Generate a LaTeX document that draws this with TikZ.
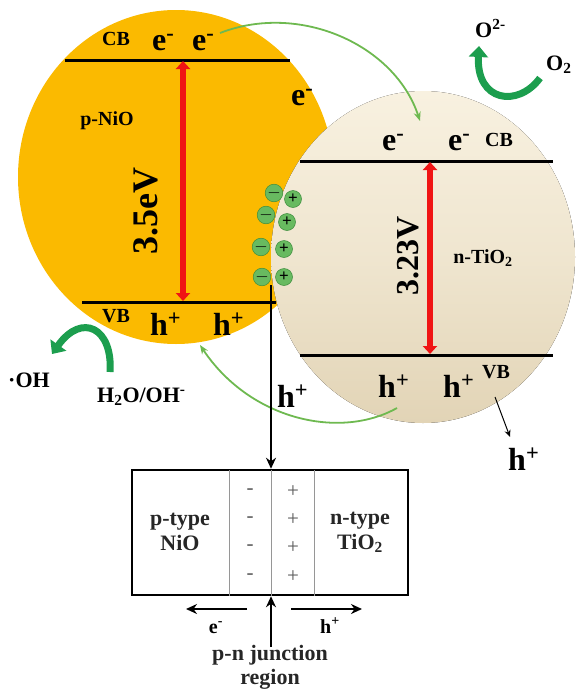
\documentclass[tikz,border=0pt]{standalone}
\usepackage{fontspec}
\setmainfont{Liberation Serif}
\usetikzlibrary{arrows.meta}
\definecolor{orng}{RGB}{251,186,0}
\definecolor{beigeT}{RGB}{248,241,224}
\definecolor{beigeB}{RGB}{226,212,182}
\definecolor{redA}{RGB}{240,20,20}
\definecolor{chg}{RGB}{104,186,96}
\definecolor{chgD}{RGB}{60,140,60}
\definecolor{thinG}{RGB}{110,185,80}
\definecolor{thickG}{RGB}{28,158,78}
\definecolor{boxgray}{RGB}{150,150,150}
\tikzset{
  bigt/.style={font=\fontsize{32}{34}\selectfont\bfseries, inner sep=0pt},
  labt/.style={font=\fontsize{20}{22}\selectfont\bfseries, inner sep=0pt},
  midt/.style={font=\fontsize{22}{24}\selectfont\bfseries, inner sep=0pt},
  boxt/.style={font=\fontsize{22}{25}\selectfont\bfseries, inner sep=0pt, align=center, text=black!85},
  sgn/.style={font=\fontsize{21}{22}\selectfont, inner sep=0pt, text=black!65},
  band/.style={line width=3pt, black},
  redarr/.style={line width=6pt, redA, {Triangle[length=8pt,width=14pt]}-{Triangle[length=8pt,width=14pt]}, shorten <=1pt, shorten >=1pt},
  chgc/.style={circle, fill=chg, draw=chgD, line width=0.5pt, minimum size=17pt, inner sep=0pt, font=\bfseries\fontsize{17}{17}\selectfont},
  thinarr/.style={thinG, line width=1.8pt, -{Stealth[length=9pt,width=7pt]}},
  thickarr/.style={thickG, line width=7pt, -{Triangle[length=11pt,width=19pt]}},
  blkarr/.style={line width=2pt, -{Stealth[length=11pt,width=10pt]}},
}
\begin{document}
\begin{tikzpicture}[x=1pt,y=-1pt]
\useasboundingbox (0,0) rectangle (576,691);
% particles
\fill[orng] (176,177) ellipse [x radius=158pt, y radius=167pt];
\fill[top color=beigeT, bottom color=beigeB, middle color=beigeT!60!beigeB] (423,257) ellipse [x radius=152pt, y radius=166pt];

% NiO bands
\coordinate (nCBl) at (65,60); \coordinate (nCBr) at (290,60);
\coordinate (nVBl) at (82,302); \coordinate (nVBr) at (276,302);
\draw[band] (nCBl) -- (nCBr);
\draw[band] (nVBl) -- (nVBr);
\coordinate (nA1) at (183,60); \coordinate (nA2) at (183,302);
\draw[redarr] (nA1) -- (nA2);

% TiO2 bands
\coordinate (tCBl) at (300,161); \coordinate (tCBr) at (553,161);
\coordinate (tVBl) at (300,355); \coordinate (tVBr) at (553,355);
\draw[band] (tCBl) -- (tCBr);
\draw[band] (tVBl) -- (tVBr);
\coordinate (tA1) at (430,161); \coordinate (tA2) at (430,355);
\draw[redarr] (tA1) -- (tA2);

% labels NiO
\node[labt, anchor=base] (ncb) at (116,45) {CB};
\node[bigt, anchor=base west] (ne1) at (152,50) {e\textsuperscript{-}};
\node[bigt, anchor=base west] (ne2) at (192,50) {e\textsuperscript{-}};
\node[labt, anchor=base] (nio) at (107,125) {p-NiO};
\node[bigt, anchor=base west] (ne3) at (291,105) {e\textsuperscript{-}};
\node[font=\fontsize{36}{36}\selectfont\bfseries, inner sep=0pt, rotate=90] (gap1) at (146,211) {3.5eV};
\node[labt, anchor=base] (nvb) at (116,322) {VB};
\node[bigt, anchor=base west] (nh1) at (150,335) {h\textsuperscript{+}};
\node[bigt, anchor=base west] (nh2) at (213,335) {h\textsuperscript{+}};

% labels TiO2
\node[bigt, anchor=base west] (te1) at (382,150) {e\textsuperscript{-}};
\node[bigt, anchor=base west] (te2) at (448,150) {e\textsuperscript{-}};
\node[labt, anchor=base west] (tcb) at (485,146) {CB};
\node[font=\fontsize{32}{32}\selectfont\bfseries, inner sep=0pt, rotate=90] (gap2) at (408,256) {3.23V};
\node[labt, anchor=base] (tio) at (483,263) {n-TiO\textsubscript{2}};
\node[bigt, anchor=base west] (th1) at (378,397) {h\textsuperscript{+}};
\node[bigt, anchor=base west] (th2) at (443,397) {h\textsuperscript{+}};
\node[labt, anchor=base west] (tvb) at (482,378) {VB};
\node[bigt, anchor=base west] (th3) at (508,470) {h\textsuperscript{+}};
\coordinate (hs) at (495,397); \coordinate (he) at (510,437);
\draw[line width=1pt, -{Stealth[length=7pt,width=6pt]}] (hs) -- (he);

% charges
\node[chgc] (m1) at (274,193) {$-$}; \node[chgc] (p1) at (293,199) {+};
\node[chgc] (m2) at (266,215) {$-$}; \node[chgc] (p2) at (287,222) {+};
\node[chgc] (m3) at (261,247) {$-$}; \node[chgc] (p3) at (284,249) {+};
\node[chgc] (m4) at (262,277) {$-$}; \node[chgc] (p4) at (284,277) {+};

% electron transfer
\coordinate (etS) at (220,33); \coordinate (etE) at (420,121);
\draw[thinarr] (etS) .. controls (300,2) and (395,45) .. (etE);
% hole transfer
\coordinate (htS) at (397,408); \coordinate (htE) at (200,345);
\draw[thinarr] (htS) .. controls (340,440) and (250,420) .. (htE);

% O2 reduction
\node[midt, anchor=base west] (o2m) at (475,37) {O\textsuperscript{2-}};
\node[midt, anchor=base west] (o2) at (546,70) {O\textsubscript{2}};
\coordinate (oS) at (540,78); \coordinate (oE) at (479,46);
\draw[thickarr] (oS) .. controls (518,108) and (476,102) .. (oE);

% OH
\node[midt, anchor=base west] (oh) at (8,387) {·OH};
\node[midt, anchor=base west] (h2o) at (97,402) {H\textsubscript{2}O/OH\textsuperscript{-}};
\coordinate (wS) at (110,372); \coordinate (wE) at (52,354);
\draw[thickarr] (wS) .. controls (113,328) and (82,312) .. (wE);

% vertical line to junction box
\node[bigt, anchor=base west] (hmid) at (277,407) {h\textsuperscript{+}};
\node[draw, line width=2.5pt, minimum width=276pt, minimum height=125pt, inner sep=0pt] (box) at (270,532.5) {};
\coordinate (vS) at (271,285);
\draw[blkarr] (vS) -- (box.north -| vS);

% box inside
\coordinate (d1) at (229,470); \coordinate (d2) at (271,470); \coordinate (d3) at (314,470);
\draw[boxgray, line width=0.8pt] (d1) -- (d1 |- box.south) (d2) -- (d2 |- box.south) (d3) -- (d3 |- box.south);
\node[boxt] (pt) at (180,532) {p-type\\NiO};
\node[boxt] (nt) at (360,532) {n-type\\TiO\textsubscript{2}};
\foreach \yy [count=\i] in {492,520,548,577}{
  \node[sgn] (mm\i) at (250,\yy) {-};
  \node[sgn] (pp\i) at (293,\yy) {+};
}

% below box
\coordinate (la1) at (247,609); \coordinate (la2) at (186,609);
\coordinate (ra1) at (291,609); \coordinate (ra2) at (362,609);
\draw[blkarr] (la1) -- (la2);
\draw[blkarr] (ra1) -- (ra2);
\node[labt, anchor=base] (be) at (216,633) {e\textsuperscript{-}};
\node[labt, anchor=base] (bh) at (330,633) {h\textsuperscript{+}};
\coordinate (ua) at (271,647);
\draw[blkarr] (ua) -- (box.south -| ua);
\node[boxt, anchor=base] (pn) at (270,660) {p-n junction};
\node[boxt, anchor=base] (rg) at (270,684) {region};
\end{tikzpicture}
\end{document}
